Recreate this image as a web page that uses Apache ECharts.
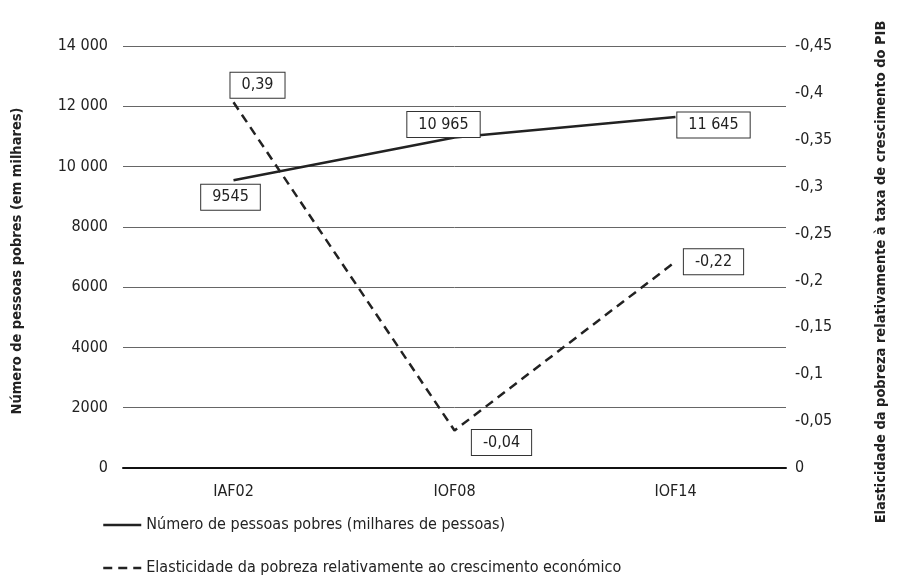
<!DOCTYPE html>
<html>
<head>
<meta charset="utf-8">
<script src="https://cdn.jsdelivr.net/npm/echarts@6/dist/echarts.min.js"></script>
<style>html,body{margin:0;padding:0;background:#fff;}#c{width:898px;height:577px;}</style>
</head>
<body>
<div id="c"></div>
<script>
var categories = ['IAF02', 'IOF08', 'IOF14'];
var pobres = [9545, 10965, 11645];
var pobresLabels = ['9545', '10 965', '11 645'];
var elasticidade = [-0.39, -0.04, -0.22];
var elasticidadeLabels = ['0,39', '-0,04', '-0,22'];
var leftTicks = { min: 0, max: 14000, interval: 2000 };
var rightTicks = { min: -0.45, max: 0, interval: 0.05 };
var seriesNames = ['Número de pessoas pobres (milhares de pessoas)', 'Elasticidade da pobreza relativamente ao crescimento económico'];

var FONT = "'DejaVu Sans Condensed', 'Liberation Sans Narrow', sans-serif";
var INK = '#222';

function fmtLeft(v) {
  var s = String(v);
  if (v >= 10000) s = s.slice(0, s.length - 3) + ' ' + s.slice(-3);
  return s;
}
function fmtRight(v) {
  var r = Math.round(v * 100) / 100;
  return String(r).replace('.', ',');
}

var boxLabel = {
  show: true,
  position: 'inside',
  color: INK,
  fontFamily: FONT,
  fontSize: 16,
  backgroundColor: '#fff',
  borderColor: '#333',
  borderWidth: 1,
  padding: [5, 11, 4, 11]
};

var pobresOffsets = [[-3, 17], [-11, -13], [38, 8]];
var elasOffsets = [[24, -17], [47, 12], [38, 0]];

function legendFor(name, top) {
  return {
    orient: 'horizontal',
    left: 97,
    top: top,
    itemWidth: 38,
    itemHeight: 14,
    itemGap: 10,
    itemStyle: { color: 'transparent', borderWidth: 0, opacity: 0 },
    lineStyle: { width: 2.5 },
    textStyle: { fontFamily: FONT, fontSize: 16, color: INK },
    data: [{ name: name }]
  };
}

var chart = echarts.init(document.getElementById('c'), null, { renderer: 'canvas' });
chart.setOption({
  backgroundColor: '#fff',
  animation: false,
  textStyle: { fontFamily: FONT, color: INK },
  grid: { left: 123, right: 112, top: 46, bottom: 109, containLabel: false, outerBoundsMode: 'none' },
  legend: [legendFor(seriesNames[0], 512), legendFor(seriesNames[1], 555)],
  xAxis: {
    type: 'category',
    data: categories,
    boundaryGap: true,
    axisLine: { lineStyle: { color: '#111', width: 2 } },
    axisTick: { show: false },
    axisLabel: { color: INK, fontFamily: FONT, fontSize: 16, margin: 16 }
  },
  yAxis: [
    {
      type: 'value',
      min: leftTicks.min, max: leftTicks.max, interval: leftTicks.interval,
      name: 'Número de pessoas pobres (em milhares)',
      nameLocation: 'middle',
      nameRotate: 90,
      nameGap: 98,
      nameTextStyle: { fontFamily: FONT, fontSize: 14.5, fontWeight: 'bold', color: INK, padding: [0, 8, 0, 0] },
      axisLine: { show: false },
      axisTick: { show: false },
      axisLabel: { color: INK, fontFamily: FONT, fontSize: 16, margin: 15, formatter: fmtLeft },
      splitLine: { lineStyle: { color: '#666', width: 1 } }
    },
    {
      type: 'value',
      position: 'right',
      inverse: true,
      min: rightTicks.min, max: rightTicks.max, interval: rightTicks.interval,
      name: 'Elasticidade da pobreza relativamente à taxa de crescimento do PIB',
      nameLocation: 'middle',
      nameRotate: 90,
      nameGap: 88,
      nameTextStyle: { fontFamily: FONT, fontSize: 14.5, fontWeight: 'bold', color: INK, padding: [0, 30, 0, 0] },
      axisLine: { show: false },
      axisTick: { show: false },
      axisLabel: { color: INK, fontFamily: FONT, fontSize: 16, margin: 9, formatter: fmtRight },
      splitLine: { show: false }
    }
  ],
  series: [
    {
      name: seriesNames[0],
      type: 'line',
      yAxisIndex: 0,
      symbol: 'circle',
      symbolSize: 0,
      showSymbol: true,
      lineStyle: { color: INK, width: 2.5, type: 'solid' },
      itemStyle: { color: INK },
      data: pobres.map(function (v, i) {
        return {
          value: v,
          label: Object.assign({}, boxLabel, { offset: pobresOffsets[i], formatter: pobresLabels[i] })
        };
      })
    },
    {
      name: seriesNames[1],
      type: 'line',
      yAxisIndex: 1,
      symbol: 'circle',
      symbolSize: 0,
      showSymbol: true,
      lineStyle: { color: INK, width: 2.5, type: [9, 6] },
      itemStyle: { color: INK },
      data: elasticidade.map(function (v, i) {
        return {
          value: v,
          label: Object.assign({}, boxLabel, { offset: elasOffsets[i], formatter: elasticidadeLabels[i] })
        };
      })
    }
  ]
});
</script>
</body>
</html>
